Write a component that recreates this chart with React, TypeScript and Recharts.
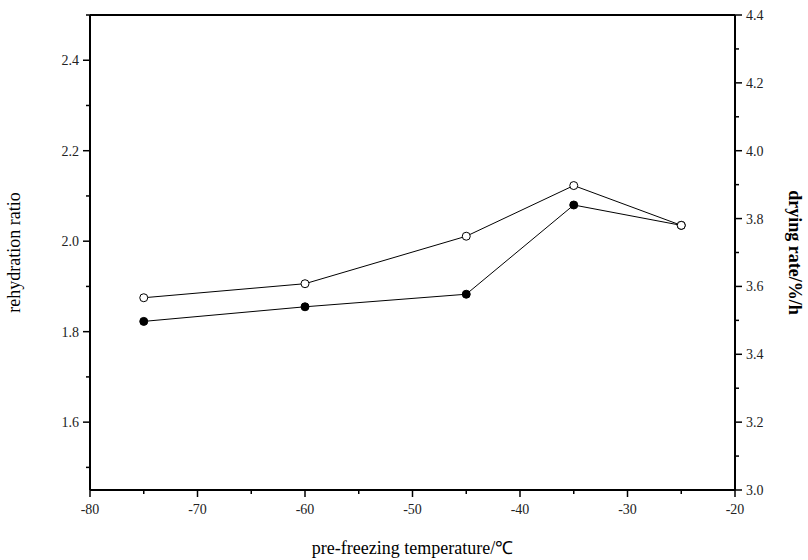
import { ComposedChart, Line, XAxis, YAxis, ReferenceLine } from "recharts";

const temps = [-75, -60, -45, -35, -25];
const rehydration = [1.875, 1.906, 2.011, 2.123, 2.035];
const dryingRate = [3.497, 3.54, 3.577, 3.84, 3.78];

const xTicks = [-80, -75, -70, -65, -60, -55, -50, -45, -40, -35, -30, -25, -20];
const leftTicks = [1.5, 1.6, 1.7, 1.8, 1.9, 2.0, 2.1, 2.2, 2.3, 2.4, 2.5];
const rightTicks = [3.0, 3.1, 3.2, 3.3, 3.4, 3.5, 3.6, 3.7, 3.8, 3.9, 4.0, 4.1, 4.2, 4.3, 4.4];

const data = temps.map((t, i) => ({ t, rehydration: rehydration[i], dryingRate: dryingRate[i] }));

const FONT = "'Liberation Serif', serif";
const tickStyle = { fontFamily: FONT, fontSize: 14 };
const isMajor = (v: number, step: number) => Math.abs(Math.round(v / step) * step - v) < 1e-6;

const XTick = (p: any) => {
  const v = p.payload.value;
  const major = isMajor(v, 10);
  return (
    <g>
      <line x1={p.x} x2={p.x} y1={p.y} y2={p.y + (major ? 7 : 4)} stroke="#000" strokeWidth={1.5} />
      {major && (
        <text x={p.x} y={p.y + 24} textAnchor="middle" style={tickStyle} fill="#222">{v}</text>
      )}
    </g>
  );
};

const LeftTick = (p: any) => {
  const v = p.payload.value;
  const major = isMajor(v, 0.2) && v < 2.45;
  return (
    <g>
      <line x1={p.x - (major ? 7 : 4)} x2={p.x} y1={p.y} y2={p.y} stroke="#000" strokeWidth={1.5} />
      {major && (
        <text x={p.x - 11} y={p.y + 5} textAnchor="end" style={tickStyle} fill="#222">{v.toFixed(1)}</text>
      )}
    </g>
  );
};

const RightTick = (p: any) => {
  const v = p.payload.value;
  const major = isMajor(v, 0.2);
  return (
    <g>
      <line x1={p.x} x2={p.x + (major ? 7 : 4)} y1={p.y} y2={p.y} stroke="#000" strokeWidth={1.5} />
      {major && (
        <text x={p.x + 11} y={p.y + 5} textAnchor="start" style={tickStyle} fill="#222">{v.toFixed(1)}</text>
      )}
    </g>
  );
};

export default function App() {
  return (
    <div style={{ position: "absolute", left: 0, top: 0, background: "#fff" }}>
      <ComposedChart width={808} height={560} data={data} margin={{ top: 15, right: 13, left: 30, bottom: 30 }}>
        <XAxis
          dataKey="t" type="number" domain={[-80, -20]} ticks={xTicks} interval={0}
          tick={<XTick />} tickLine={false} tickSize={0} tickMargin={0} height={40}
          axisLine={{ stroke: "#000", strokeWidth: 2 }}
          label={{ value: "pre-freezing temperature/℃", position: "insideBottom", offset: -24, fontSize: 18, fontFamily: FONT, fill: "#000" }}
        />
        <YAxis
          yAxisId="left" domain={[1.45, 2.5]} ticks={leftTicks} interval={0} width={60}
          tick={<LeftTick />} tickLine={false} tickSize={0} tickMargin={0}
          axisLine={{ stroke: "#000", strokeWidth: 2 }}
          label={{ value: "rehydration ratio", angle: -90, position: "insideLeft", offset: -16, fontSize: 18, fontFamily: FONT, fill: "#000", style: { textAnchor: "middle" } }}
        />
        <YAxis
          yAxisId="right" orientation="right" domain={[3.0, 4.4]} ticks={rightTicks} interval={0} width={60}
          tick={<RightTick />} tickLine={false} tickSize={0} tickMargin={0}
          axisLine={{ stroke: "#000", strokeWidth: 2 }}
          label={{ value: "drying rate/%/h", angle: 90, position: "insideRight", offset: 0, fontSize: 18, fontWeight: "bold", fontFamily: FONT, fill: "#000", style: { textAnchor: "middle" } }}
        />
        <ReferenceLine yAxisId="left" y={2.5} stroke="#000" strokeWidth={2} />
        <Line
          yAxisId="right" dataKey="dryingRate" stroke="#000" strokeWidth={1} isAnimationActive={false}
          dot={{ r: 4, fill: "#000", stroke: "#000", strokeWidth: 1 }}
        />
        <Line
          yAxisId="left" dataKey="rehydration" stroke="#000" strokeWidth={1} isAnimationActive={false}
          dot={{ r: 4, fill: "#fff", stroke: "#000", strokeWidth: 1 }}
        />
      </ComposedChart>
    </div>
  );
}
